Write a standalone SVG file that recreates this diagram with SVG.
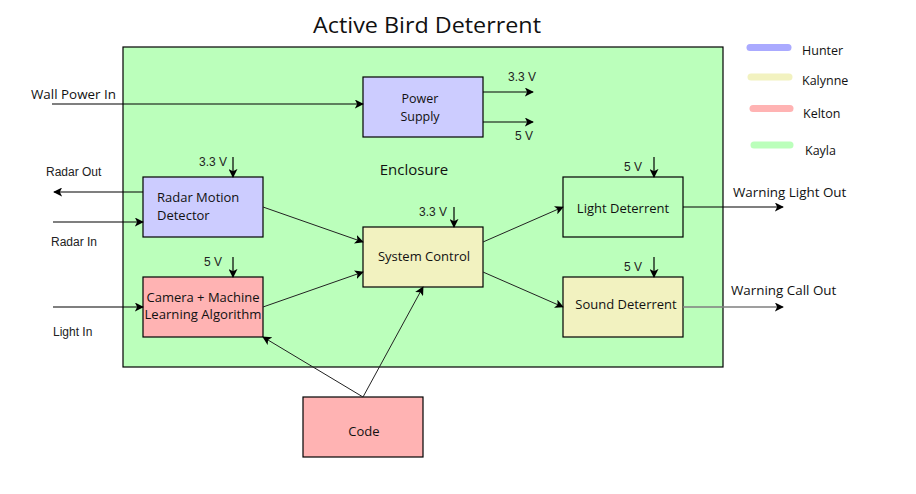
<svg xmlns="http://www.w3.org/2000/svg" width="916" height="494" viewBox="0 0 916 494">
<defs>
<marker id="arr" viewBox="0 0 10 10" refX="9" refY="5" markerWidth="9" markerHeight="9" markerUnits="userSpaceOnUse" orient="auto">
<path d="M0,0 L10,5 L0,10 L2.5,5 z" fill="#000"/>
</marker>
<style>
.box{stroke:#000;stroke-width:1.2}
.blue{fill:#ccccff}
.yel{fill:#f2f2c0}
.red{fill:#ffb3b3}
.grn{fill:#bbffbb}
.lbl{font-family:"Open Sans","Liberation Sans",sans-serif;font-size:12.5px;fill:#111}
.l13{font-size:13px}
.l14{font-size:13.4px}
.l15{font-size:15px}
.sm{font-family:"Liberation Sans",Arial,sans-serif;font-size:12px;fill:#222}
.ln{stroke:#000;stroke-width:1.2;fill:none;marker-end:url(#arr)}
.dg{stroke:#222;stroke-width:1;fill:none;marker-end:url(#arr)}
.leg{stroke-width:7;stroke-linecap:round}
</style>
</defs>
<rect width="916" height="494" fill="#fff"/>
<text x="427" y="33" text-anchor="middle" font-family="Open Sans, Liberation Sans, sans-serif" font-size="21" fill="#111" textLength="228" lengthAdjust="spacingAndGlyphs">Active Bird Deterrent</text>

<g id="enclosure">
<rect x="123" y="47" width="600" height="320" class="box grn"/>
<text x="414" y="175" text-anchor="middle" class="lbl l15">Enclosure</text>
</g>

<g id="legend">
<line x1="750" y1="47.5" x2="788" y2="47.5" class="leg" stroke="#aaaaff"/>
<text x="802" y="55" class="lbl">Hunter</text>
<line x1="751" y1="77" x2="789" y2="77" class="leg" stroke="#f2f2c0"/>
<text x="802" y="85" class="lbl">Kalynne</text>
<line x1="753" y1="108.5" x2="790" y2="108.5" class="leg" stroke="#ffb3b3"/>
<text x="803" y="118" class="lbl">Kelton</text>
<line x1="754" y1="145" x2="790" y2="145" class="leg" stroke="#bbffbb"/>
<text x="805" y="155" class="lbl">Kayla</text>
</g>

<g id="power-supply">
<rect x="363" y="77" width="120" height="60" class="box blue"/>
<text x="420" y="103" text-anchor="middle" class="lbl">Power</text>
<text x="420" y="121" text-anchor="middle" class="lbl">Supply</text>
</g>

<g id="radar">
<rect x="143" y="177" width="120" height="60" class="box blue"/>
<text x="157" y="202" class="lbl l13">Radar Motion</text>
<text x="157" y="220" class="lbl l13">Detector</text>
</g>

<g id="camera">
<rect x="143" y="277" width="120" height="60" class="box red"/>
<text x="203" y="302" text-anchor="middle" class="lbl l13" textLength="113" lengthAdjust="spacingAndGlyphs">Camera + Machine</text>
<text x="203" y="319" text-anchor="middle" class="lbl l13" textLength="117" lengthAdjust="spacingAndGlyphs">Learning Algorithm</text>
</g>

<g id="system-control">
<rect x="363" y="227" width="120" height="60" class="box yel"/>
<text x="424" y="261" text-anchor="middle" class="lbl l13">System Control</text>
</g>

<g id="light-deterrent">
<rect x="563" y="177" width="120" height="60" class="box grn"/>
<text x="623" y="213" text-anchor="middle" class="lbl l13">Light Deterrent</text>
</g>

<g id="sound-deterrent">
<rect x="563" y="277" width="120" height="60" class="box yel"/>
<text x="626" y="309" text-anchor="middle" class="lbl l13">Sound Deterrent</text>
</g>

<g id="code">
<rect x="303" y="397" width="120" height="60" class="box red"/>
<text x="364" y="436" text-anchor="middle" class="lbl l13">Code</text>
</g>

<g id="connectors">
<line x1="52" y1="104" x2="363" y2="104" class="ln"/>
<line x1="483" y1="92" x2="533" y2="92" class="ln"/>
<line x1="483" y1="122" x2="533" y2="122" class="ln"/>
<line x1="143" y1="192" x2="54" y2="192" class="ln"/>
<line x1="53" y1="222" x2="143" y2="222" class="ln"/>
<line x1="53" y1="307" x2="143" y2="307" class="ln"/>
<line x1="233" y1="157" x2="233" y2="177" class="ln"/>
<line x1="233" y1="257" x2="233" y2="277" class="ln"/>
<line x1="454" y1="207" x2="454" y2="227" class="ln"/>
<line x1="654" y1="157" x2="654" y2="177" class="ln"/>
<line x1="654" y1="257" x2="654" y2="277" class="ln"/>
<line x1="263" y1="207" x2="363" y2="242" class="dg"/>
<line x1="263" y1="307" x2="363" y2="272" class="dg"/>
<line x1="483" y1="242" x2="563" y2="207" class="dg"/>
<line x1="483" y1="272" x2="563" y2="307" class="dg"/>
<line x1="363" y1="397" x2="263" y2="337" class="dg"/>
<line x1="363" y1="397" x2="423" y2="287" class="dg"/>
<line x1="683" y1="207" x2="783" y2="207" class="ln"/>
<line x1="683" y1="307" x2="783" y2="307" stroke="#7f7f7f" stroke-width="1.6" fill="none" marker-end="url(#arr)"/>
<text x="31" y="99" class="lbl l14">Wall Power In</text>
<text x="508" y="81" class="sm">3.3 V</text>
<text x="515" y="140" class="sm">5 V</text>
<text x="46" y="176" class="sm">Radar Out</text>
<text x="51" y="246" class="sm">Radar In</text>
<text x="53" y="336" class="sm">Light In</text>
<text x="199" y="166" class="sm">3.3 V</text>
<text x="204" y="266" class="sm">5 V</text>
<text x="419" y="216" class="sm">3.3 V</text>
<text x="624" y="171" class="sm">5 V</text>
<text x="624" y="271" class="sm">5 V</text>
<text x="733" y="197" class="lbl l14">Warning Light Out</text>
<text x="731" y="295" class="lbl l14">Warning Call Out</text>
</g>
</svg>
